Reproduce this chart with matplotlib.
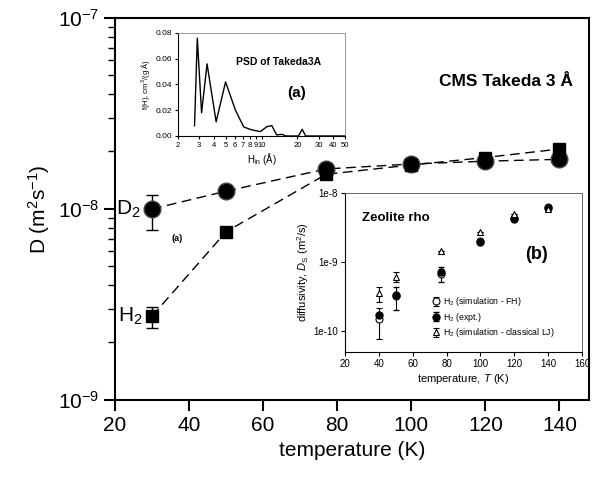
import numpy as np
import matplotlib.pyplot as plt
from matplotlib.ticker import LogLocator, FixedLocator, NullFormatter, FuncFormatter

plt.rcParams['font.family'] = ['Liberation Sans', 'DejaVu Sans']
plt.rcParams['mathtext.fontset'] = 'custom'
plt.rcParams['mathtext.rm'] = 'Liberation Sans'
plt.rcParams['mathtext.it'] = 'Liberation Sans:italic'
plt.rcParams['mathtext.bf'] = 'Liberation Sans:bold'
plt.rcParams['mathtext.default'] = 'regular'

# main panel: CMS Takeda 3 A
temp = [30, 50, 77, 100, 120, 140]
d2 = [1.0e-8, 1.24e-8, 1.62e-8, 1.72e-8, 1.78e-8, 1.82e-8]
h2 = [2.75e-9, 7.6e-9, 1.52e-8, 1.70e-8, 1.86e-8, 2.06e-8]
d2_err_lo = [0.22e-8, 0, 0, 0, 0, 0]
d2_err_hi = [0.19e-8, 0, 0, 0, 0, 0]
h2_err_lo = [0.38e-9, 0, 0, 0, 0, 0]
h2_err_hi = [0.32e-9, 0, 0, 0, 0, 0]

# inset (a): pore size distribution
psd_h = [2.75, 2.9, 3.15, 3.5, 4.17, 5.0, 6.05, 7.1, 8.3, 9.8, 11.1, 12.2, 13.4, 14.8, 16, 20.4, 21.9, 23.4, 50]
psd_f = [0.008, 0.076, 0.018, 0.056, 0.011, 0.042, 0.020, 0.007, 0.0047, 0.0034, 0.0073, 0.008, 0.0008, 0.0013, 0.0, 0.0, 0.0052, 0.0, 0.0]

# inset (b): zeolite rho
t_b = [40, 50, 77, 100, 120, 140]
fh = [1.5e-10, 3.2e-10, 6.8e-10, 2.0e-9, 4.3e-9, 6.3e-9]
fh_lo = [0.72e-10, 0, 0, 0, 0, 0]
fh_hi = [0.7e-10, 0, 0, 0, 0, 0]
expt = [1.7e-10, 3.3e-10, 7.1e-10, 1.97e-9, 4.2e-9, 6.0e-9]
expt_lo = [0, 1.25e-10, 1.9e-10, 0, 0, 0]
expt_hi = [0, 1.1e-10, 1.4e-10, 0, 0, 0]
lj = [3.6e-10, 6.0e-10, 1.46e-9, 2.75e-9, 5.0e-9, 5.8e-9]
lj_lo = [0.94e-10, 0.8e-10, 0, 0, 0, 0]
lj_hi = [0.8e-10, 1.1e-10, 0, 0, 0, 0]

fig = plt.figure(figsize=(6, 4.8), dpi=100)

ax = fig.add_axes([0.1917, 0.1667, 0.79, 0.7958])
ax.plot(temp, d2, 'k--', lw=1, dashes=(7, 4), zorder=2)
ax.plot(temp, h2, 'k--', lw=1, dashes=(7, 4), zorder=2)
ax.errorbar(temp, d2, yerr=[d2_err_lo, d2_err_hi], fmt='o', color='k', ms=12,
            mec='#444444', capsize=4, elinewidth=1, zorder=3)
ax.errorbar(temp, h2, yerr=[h2_err_lo, h2_err_hi], fmt='s', color='k', ms=9,
            capsize=4, elinewidth=1, zorder=3)
ax.set_yscale('log')
ax.set_xlim(20, 148)
ax.set_ylim(1e-9, 1e-7)
ax.set_xticks([20, 40, 60, 80, 100, 120, 140])
ax.set_yticks([1e-9, 1e-8, 1e-7])
ax.set_yticklabels(['10$^{-9}$', '10$^{-8}$', '10$^{-7}$'])
ax.yaxis.set_minor_locator(LogLocator(base=10, subs=np.arange(2, 10)))
ax.yaxis.set_minor_formatter(NullFormatter())
ax.tick_params(which='major', length=8, width=1.5, labelsize=15)
ax.tick_params(which='minor', length=5, width=1)
for s in ax.spines.values():
    s.set_linewidth(1.5)
ax.set_xlabel('temperature (K)', fontsize=15)
ax.set_ylabel('D (m$^2$s$^{-1}$)', fontsize=15)
ax.annotate('D$_2$', (temp[0], d2[0]), xytext=(-8, 0), textcoords='offset points',
            ha='right', va='center', fontsize=15)
ax.annotate('H$_2$', (temp[0], h2[0]), xytext=(-7, 0), textcoords='offset points',
            ha='right', va='center', fontsize=15)
ax.text(0.131, 0.424, '(a)', transform=ax.transAxes, fontsize=6.5, fontweight='bold',
        ha='center', va='center')
ax.text(0.966, 0.835, 'CMS Takeda 3 Å', transform=ax.transAxes, fontsize=12.5,
        fontweight='bold', ha='right', va='center')

# inset (a)
axa = fig.add_axes([0.2967, 0.7167, 0.2783, 0.2146])
axa.plot(psd_h, psd_f, 'k-', lw=1)
axa.set_xscale('log')
axa.set_xlim(2, 50)
axa.set_ylim(0, 0.08)
xt = [2, 3, 4, 5, 6, 7, 8, 9, 10, 20, 30, 40, 50]
axa.xaxis.set_major_locator(FixedLocator(xt))
axa.xaxis.set_minor_locator(FixedLocator([]))
axa.xaxis.set_major_formatter(FuncFormatter(lambda v, p: '%d' % round(v)))
axa.set_yticks([0, 0.02, 0.04, 0.06, 0.08])
axa.set_yticklabels(['0.00', '0.02', '0.04', '0.06', '0.08'])
axa.tick_params(axis='y', labelsize=6, length=2, pad=2)
axa.tick_params(axis='x', labelsize=5.5, length=2, pad=2)
axa.set_xlabel('H$_{in}$ (Å)', fontsize=7, labelpad=2)
axa.set_ylabel('f(H), cm$^3$/(g Å)', fontsize=5.5, labelpad=3)
for s in ['top', 'right']:
    axa.spines[s].set_color('#888888')
    axa.spines[s].set_linewidth(0.6)
axa.text(0.60, 0.72, 'PSD of Takeda3A', transform=axa.transAxes, fontsize=7.5,
         fontweight='bold', ha='center', va='center')
axa.text(0.71, 0.42, '(a)', transform=axa.transAxes, fontsize=11,
         fontweight='bold', ha='center', va='center')

# inset (b)
axb = fig.add_axes([0.575, 0.2667, 0.395, 0.3313])
axb.errorbar(t_b, fh, yerr=[fh_lo, fh_hi], fmt='o', mfc='white', mec='k', ecolor='k',
             ms=5, capsize=2.5, elinewidth=0.8, mew=0.8, label='H$_2$ (simulation - FH)')
axb.errorbar(t_b, expt, yerr=[expt_lo, expt_hi], fmt='o', color='k', ms=5,
             capsize=2.5, elinewidth=0.8, label='H$_2$ (expt.)')
axb.errorbar(t_b, lj, yerr=[lj_lo, lj_hi], fmt='^', mfc='white', mec='k', ecolor='k',
             ms=5, capsize=2.5, elinewidth=0.8, mew=0.8,
             label='H$_2$ (simulation - classical LJ)')
axb.set_yscale('log')
axb.set_xlim(20, 160)
axb.set_ylim(5e-11, 1e-8)
axb.set_xticks([20, 40, 60, 80, 100, 120, 140, 160])
axb.set_yticks([1e-10, 1e-9, 1e-8])
axb.set_yticklabels(['1e-10', '1e-9', '1e-8'])
axb.yaxis.set_minor_locator(FixedLocator([]))
axb.tick_params(labelsize=7, length=3, pad=2)
axb.set_xlabel('temperature, $\\mathit{T}$ (K)', fontsize=8, labelpad=2)
axb.set_ylabel('diffusivity, $\\mathit{D}_{S}$ (m$^2$/s)', fontsize=8, labelpad=2)
for s in ['top', 'right']:
    axb.spines[s].set_color('#666666')
    axb.spines[s].set_linewidth(0.7)
axb.text(0.07, 0.84, 'Zeolite rho', transform=axb.transAxes, fontsize=9.5,
         fontweight='bold', ha='left', va='center')
axb.text(0.806, 0.61, '(b)', transform=axb.transAxes, fontsize=13,
         fontweight='bold', ha='center', va='center')
axb.legend(loc='lower left', bbox_to_anchor=(0.34, 0.04), fontsize=6.3, frameon=False,
           handlelength=1.0, handletextpad=0.3, labelspacing=0.3, borderpad=0.2)

fig.savefig('out.png', dpi=100)
